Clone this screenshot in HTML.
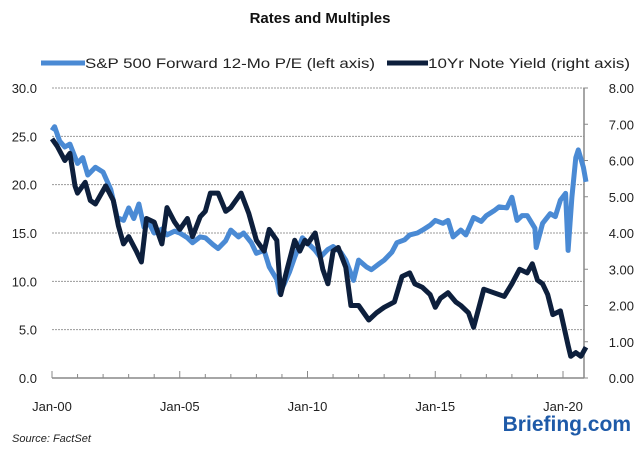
<!DOCTYPE html>
<html><head><meta charset="utf-8"><style>
body{margin:0;background:#fff;font-family:"Liberation Sans",sans-serif}
svg text{font-family:"Liberation Sans",sans-serif}
</style></head><body>
<svg id="c" width="640" height="452" viewBox="0 0 640 452">
<text x="320" y="23" text-anchor="middle" font-size="15" font-weight="bold" fill="#111">Rates and Multiples</text>
<g>
<line x1="41" y1="63" x2="85" y2="63" stroke="#4a8ad4" stroke-width="5"/>
<text x="85" y="68" font-size="14" fill="#222" textLength="290" lengthAdjust="spacingAndGlyphs">S&amp;P 500 Forward 12-Mo P/E (left axis)</text>
<line x1="387" y1="63" x2="428" y2="63" stroke="#0d1f3c" stroke-width="5"/>
<text x="428" y="68" font-size="14" fill="#222" textLength="202" lengthAdjust="spacingAndGlyphs">10Yr Note Yield (right axis)</text>
</g>
<g id="grid"></g><g id="axes"></g><g id="series"></g>
<text x="12" y="442" font-size="11" font-style="italic" fill="#222">Source: FactSet</text>
<text x="631" y="431" text-anchor="end" font-size="21" font-weight="bold" fill="#1e5aa8">Briefing.com</text>
</svg>
<script>
const leftTicks=[0,5,10,15,20,25,30];
const leftTickLabels=["0.0","5.0","10.0","15.0","20.0","25.0","30.0"];
const rightTicks=[0,1,2,3,4,5,6,7,8];
const rightTickLabels=["0.00","1.00","2.00","3.00","4.00","5.00","6.00","7.00","8.00"];
const xTickYears=[2000,2005,2010,2015,2020];
const xTickLabels=["Jan-00","Jan-05","Jan-10","Jan-15","Jan-20"];
const peDates=[2000,2000.1,2000.3,2000.5,2000.7,2001,2001.2,2001.4,2001.7,2002,2002.3,2002.55,2002.8,2003,2003.2,2003.4,2003.6,2003.8,2004,2004.3,2004.5,2004.8,2005,2005.3,2005.5,2005.8,2006,2006.3,2006.5,2006.8,2007,2007.3,2007.5,2007.8,2008,2008.3,2008.5,2008.8,2008.9,2009.1,2009.3,2009.5,2009.8,2010,2010.3,2010.5,2010.8,2011,2011.3,2011.5,2011.8,2012,2012.3,2012.5,2012.8,2013,2013.3,2013.5,2013.8,2014,2014.3,2014.5,2014.8,2015,2015.3,2015.5,2015.7,2016,2016.2,2016.5,2016.8,2017,2017.3,2017.5,2017.8,2018,2018.2,2018.4,2018.6,2018.9,2018.95,2019.2,2019.5,2019.7,2019.9,2020.1,2020.2,2020.35,2020.5,2020.6,2020.8,2020.9];
const peValues=[25.6,26,24.5,23.9,24.2,22.2,22.8,21,21.8,21.3,19.5,16.6,16.3,17.6,16.5,18,15.6,16,15,15.4,14.8,15.2,15,14.5,14,14.6,14.5,13.8,13.4,14.2,15.3,14.6,15,14,12.9,13.2,11.5,10.2,8.8,9.8,11,12.5,14.5,14,13.2,12.5,13.3,13.6,13,12.2,10.1,12.2,11.5,11.2,11.8,12.2,13,14,14.3,14.8,15,15.3,15.8,16.3,16,16.3,14.6,15.3,14.8,16.6,16.2,16.8,17.3,17.7,17.6,18.7,16.3,16.8,16.8,15.5,13.5,16,17,16.7,18.4,19.1,13.2,18.7,22.8,23.6,21.8,20.3];
const yDates=[2000,2000.2,2000.5,2000.7,2000.9,2001,2001.3,2001.5,2001.7,2002.1,2002.4,2002.6,2002.8,2003,2003.3,2003.5,2003.7,2004,2004.3,2004.5,2004.8,2005,2005.3,2005.5,2005.8,2006,2006.2,2006.5,2006.8,2007,2007.4,2007.7,2008,2008.3,2008.5,2008.8,2008.95,2009.2,2009.5,2009.7,2009.9,2010,2010.3,2010.6,2010.8,2011,2011.2,2011.5,2011.7,2012,2012.4,2012.7,2013,2013.4,2013.7,2014,2014.2,2014.5,2014.8,2015,2015.2,2015.5,2015.8,2016,2016.3,2016.5,2016.9,2017.3,2017.7,2018,2018.3,2018.6,2018.8,2019,2019.2,2019.4,2019.6,2019.9,2020.2,2020.3,2020.5,2020.7,2020.9];
const yValues=[6.6,6.4,6.0,6.2,5.3,5.1,5.4,4.9,4.8,5.3,4.9,4.2,3.7,3.9,3.5,3.2,4.4,4.3,3.7,4.7,4.3,4.1,4.4,3.9,4.45,4.6,5.1,5.1,4.6,4.7,5.1,4.55,3.8,3.5,4.1,3.8,2.3,3.0,3.8,3.5,3.8,3.7,4.0,3.0,2.6,3.5,3.6,3.05,2.0,2.0,1.6,1.8,1.95,2.1,2.8,2.9,2.6,2.5,2.3,1.95,2.2,2.35,2.1,2.0,1.8,1.4,2.45,2.35,2.25,2.6,3.0,2.9,3.15,2.7,2.6,2.3,1.75,1.85,0.9,0.6,0.7,0.6,0.85];
const NS='http://www.w3.org/2000/svg';
const X0=52,X1=584,Y0=378,YT=88;
const xs=d=>X0+(d-2000)*25.55;
const yl=v=>Y0-(v/30)*(Y0-YT);
const yr=v=>Y0-(v/8)*(Y0-YT);
function mk(tag,attrs,parent){const e=document.createElementNS(NS,tag);for(const k in attrs)e.setAttribute(k,attrs[k]);parent.appendChild(e);return e;}
const grid=document.getElementById('grid'),axes=document.getElementById('axes'),ser=document.getElementById('series');
leftTicks.forEach((v,i)=>{
 if(v>0){const g=mk('line',{x1:X0,x2:X1,y1:yl(v),y2:yl(v),stroke:'#999','stroke-width':1,'stroke-dasharray':'2,1'},grid);
 
 }
 const t=mk('text',{x:37,y:yl(v)+5,'text-anchor':'end','font-size':13,fill:'#222'},axes);t.textContent=leftTickLabels[i];
 
 
});
rightTicks.forEach((v,i)=>{
 const l=mk('line',{x1:X1,x2:X1+4,y1:yr(v),y2:yr(v),stroke:'#888','stroke-width':1},axes);
 
 
 const t=mk('text',{x:634,y:yr(v)+5,'text-anchor':'end','font-size':13,fill:'#222'},axes);t.textContent=rightTickLabels[i];
 
 
});
const ra=mk('line',{x1:X1,x2:X1,y1:YT,y2:Y0,stroke:'#888','stroke-width':1.5},axes);


const xa=mk('line',{x1:X0,x2:X1,y1:Y0,y2:Y0,stroke:'#888','stroke-width':1.5},axes);


for(let y=2000;y<=2020;y++){const l=mk('line',{x1:xs(y),x2:xs(y),y1:Y0,y2:Y0-(y%5===0?7:4),stroke:'#888','stroke-width':1},axes);
 
 }
xTickYears.forEach((y,i)=>{const t=mk('text',{x:xs(y),y:411,'text-anchor':'middle','font-size':13,fill:'#222'},axes);t.textContent=xTickLabels[i];
 
 });
const pe=mk('polyline',{points:peDates.map((d,i)=>xs(d).toFixed(1)+','+yl(peValues[i]).toFixed(1)).join(' '),fill:'none',stroke:'#4a8ad4','stroke-width':5,'stroke-linejoin':'round'},ser);


const yl2=mk('polyline',{points:yDates.map((d,i)=>xs(d).toFixed(1)+','+yr(yValues[i]).toFixed(1)).join(' '),fill:'none',stroke:'#0d1f3c','stroke-width':5,'stroke-linejoin':'round'},ser);


</script>
</body></html>
